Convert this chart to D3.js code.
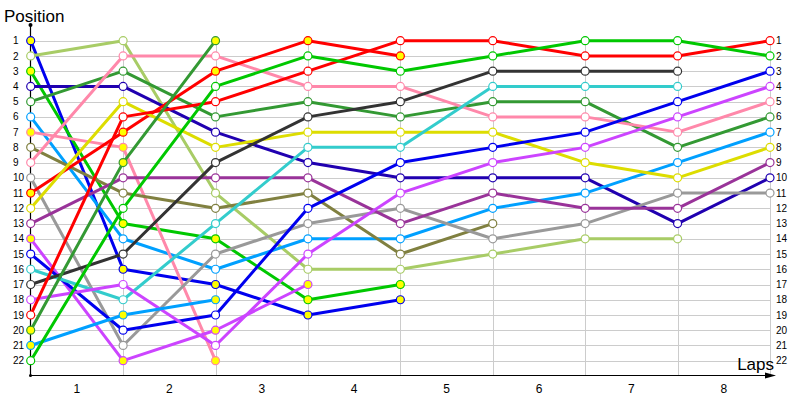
<!DOCTYPE html>
<html><head><meta charset="utf-8">
<script src="https://cdn.jsdelivr.net/npm/d3@7"></script>
<style>body{margin:0;background:#fff}svg{display:block}</style>
</head><body>
<svg id="c" width="800" height="400"></svg>
<script>
// ---- data ----
const laps = [0,1,2,3,4,5,6,7,8];
const lapLabels = ["1","2","3","4","5","6","7","8"];
const positions = d3.range(1,23);
// position at each lap (lap 0 = grid)
const drvBlueA   = [1,16,17,19,18];
const drvLtGreen = [2,1,11,16,16,15,14,14];
const drvGreenA  = [3,13,14,18,17];
const drvDkBlue  = [4,4,7,9,10,10,10,13,10];
const drvDkGreenA= [5,3,6,5,6,5,5,8,6];
const drvLtBlueA = [6,14,16,14,14,12,11,9,7];
const drvPinkA   = [7,8,22];
const drvOlive   = [8,11,12,11,15,13];
const drvPinkB   = [9,2,2,4,4,6,6,7,5];
const drvGray    = [10,21,15,13,12,14,13,11,11];
const drvRedA    = [11,7,3,1,2];
const drvYellow  = [12,5,8,7,7,7,9,10,8];
const drvPurple  = [13,10,10,10,13,11,12,12,9];
const drvVioletA = [14,22,20,17];
const drvBlueB   = [15,20,19,12,9,8,7,5,3];
const drvCyan    = [16,18,13,8,8,4,4,4];
const drvBlack   = [17,15,9,6,5,3,3,3];
const drvVioletB = [18,17,21,15,11,9,8,6,4];
const drvRedB    = [19,6,5,3,1,1,2,2,1];
const drvDkGreenB= [20,9,1];
const drvLtBlueB = [21,19,18];
const drvGreenB  = [22,12,4,2,3,2,1,1,2];

const drivers = [drvBlueA,drvLtGreen,drvGreenA,drvDkBlue,drvDkGreenA,drvLtBlueA,drvPinkA,drvOlive,drvPinkB,drvGray,drvRedA,drvYellow,drvPurple,drvVioletA,drvBlueB,drvCyan,drvBlack,drvVioletB,drvRedB,drvDkGreenB,drvLtBlueB,drvGreenB];
// ---- styles ----
const colors = ["#0000ee","#a8cc66","#00c800","#2000b0","#339933","#00a0ff","#ff88aa","#808040","#ff88aa","#999999","#ff0000","#dddd00","#993399","#cc44ff","#0000ee","#33cccc","#333333","#cc44ff","#ff0000","#339933","#00a0ff","#00c800"];
const pitFill = [true,false,true,false,false,false,true,false,false,false,true,false,false,true,false,false,false,false,false,true,true,false];

const svg = d3.select("#c");
const x = d3.scaleLinear().domain([0,8]).range([30.7,770]);
const y = d3.scaleLinear().domain([1,22]).range([40.7,360.7]);
const font = "Liberation Sans, Arial, sans-serif";

// grid
svg.append("g").selectAll("line").data(positions).join("line")
  .attr("x1",x(0)).attr("x2",x(8)).attr("y1",d=>Math.round(y(d))+0.5).attr("y2",d=>Math.round(y(d))+0.5)
  .attr("stroke","#cccccc").attr("stroke-width",1);
svg.append("g").selectAll("line").data(laps.slice(1)).join("line")
  .attr("x1",d=>Math.round(x(d))+0.5).attr("x2",d=>Math.round(x(d))+0.5).attr("y1",y(1)-2).attr("y2",375)
  .attr("stroke","#cccccc").attr("stroke-width",1);

// axes
svg.append("line").attr("x1",30.5).attr("x2",30.5).attr("y1",25).attr("y2",375.5).attr("stroke","#000").attr("stroke-width",1.2);
svg.append("line").attr("x1",30).attr("x2",768).attr("y1",375.5).attr("y2",375.5).attr("stroke","#000").attr("stroke-width",1.2);
svg.append("path").attr("d","M765,372.5L776,375.5L765,378.5Z").attr("fill","#000");
svg.append("circle").attr("cx",30.5).attr("cy",25).attr("r",2).attr("fill","#000");
svg.append("circle").attr("cx",30.5).attr("cy",375.5).attr("r",1.5).attr("fill","#000");

// position labels
svg.append("g").selectAll("text").data(positions).join("text")
  .attr("x",13).attr("y",d=>y(d)).attr("dy","0.36em").attr("font-family",font).attr("font-size",10).attr("fill","#000").text(d=>d);
svg.append("g").selectAll("text").data(positions).join("text")
  .attr("x",776).attr("y",d=>y(d)).attr("dy","0.36em").attr("font-family",font).attr("font-size",10).attr("fill","#000").text(d=>d);
// lap labels
svg.append("g").selectAll("text").data(lapLabels).join("text")
  .attr("x",(d,i)=>x(i+0.5)).attr("y",389).attr("dy","0.36em").attr("text-anchor","middle")
  .attr("font-family",font).attr("font-size",12).attr("fill","#000").text(d=>d);

svg.append("text").attr("x",4).attr("y",22).attr("font-family",font).attr("font-size",17).text("Position");
svg.append("text").attr("x",774).attr("y",370).attr("text-anchor","end").attr("font-family",font).attr("font-size",17).text("Laps");

// series
const line = d3.line().x((d,i)=>x(i)).y(d=>y(d));
drivers.forEach((pos,k)=>{
  const g = svg.append("g");
  g.append("path").attr("d",line(pos)).attr("fill","none").attr("stroke",colors[k]).attr("stroke-width",3).attr("stroke-linejoin","round");
});
drivers.forEach((pos,k)=>{
  svg.append("g").selectAll("circle").data(pos).join("circle")
    .attr("cx",(d,i)=>x(i)).attr("cy",d=>y(d)).attr("r",4)
    .attr("fill",pitFill[k]?"#ffff00":"#ffffff").attr("stroke",colors[k]).attr("stroke-width",1.2);
});
</script>
</body></html>
